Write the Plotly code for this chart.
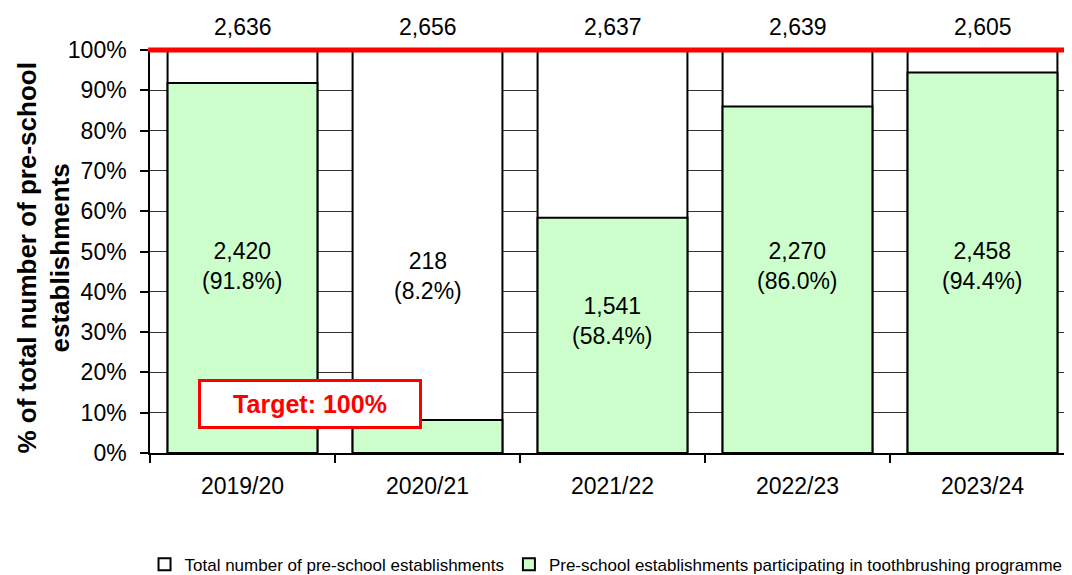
import plotly.graph_objects as go

years = ["2019/20", "2020/21", "2021/22", "2022/23", "2023/24"]
totals = [2636, 2656, 2637, 2639, 2605]
participating = [2420, 218, 1541, 2270, 2458]
pct_participating = [91.8, 8.2, 58.4, 86.0, 94.4]
full = [100, 100, 100, 100, 100]
target_pct = 100
y_ticks = [0, 10, 20, 30, 40, 50, 60, 70, 80, 90, 100]
y_tick_labels = [f"{v}%" for v in y_ticks]

FONT = "Liberation Sans, Arial, sans-serif"
FS = 23

fig = go.Figure()
fig.add_trace(go.Bar(
    x=years, y=full, name="Total number of pre-school establishments",
    marker=dict(color="white", line=dict(color="black", width=2)),
    width=0.81, hoverinfo="skip",
))
fig.add_trace(go.Bar(
    x=years, y=pct_participating,
    name="Pre-school establishments participating in toothbrushing programme",
    marker=dict(color="#ccffcc", line=dict(color="black", width=2)),
    width=0.81, hoverinfo="skip",
))

annotations = []
for yr, tot in zip(years, totals):
    annotations.append(dict(x=yr, y=100, yref="y", xref="x", text=f"{tot:,}",
                            showarrow=False, yanchor="bottom", yshift=8,
                            font=dict(size=FS, color="black", family=FONT)))
for yr, n, p in zip(years, participating, pct_participating):
    if p >= 70:
        ypos = 46.5
    elif p >= 50:
        ypos = p / 2 + 3.6
    else:
        ypos = (p + 100) / 2 - 10.3
    annotations.append(dict(x=yr, y=ypos, xref="x", yref="y",
                            text=f"{n:,}<br>({p:.1f}%)", showarrow=False,
                            font=dict(size=FS, color="black", family=FONT)))
annotations.append(dict(x=0.052, y=12.2, xref="paper", yref="y",
                        text="<b>Target: 100%</b>", showarrow=False,
                        xanchor="left", yanchor="middle",
                        font=dict(size=25, color="#ff0000", family=FONT),
                        bordercolor="#ff0000", borderwidth=3, borderpad=8,
                        bgcolor="white", width=202, height=28))
annotations.append(dict(x=-0.115, y=0.484, xref="paper", yref="paper",
                        text="<b>% of total number of pre-school<br>establishments</b>",
                        showarrow=False, textangle=-90, xanchor="center", yanchor="middle",
                        font=dict(size=26, color="black", family=FONT)))

fig.update_layout(
    width=1072, height=575,
    margin=dict(l=142, r=5, t=42, b=130, autoexpand=False),
    barmode="overlay",
    plot_bgcolor="white", paper_bgcolor="white",
    font=dict(family=FONT, size=FS, color="black"),
    showlegend=True,
    legend=dict(orientation="h", x=0.493, xanchor="center", y=-0.322, yanchor="bottom",
                font=dict(size=17, color="black", family=FONT),
                itemwidth=30, tracegroupgap=0, traceorder="normal",
                borderwidth=0),
    annotations=annotations,
    shapes=[dict(type="line", xref="paper", yref="paper", x0=-0.002, x1=1,
                 y0=target_pct / 100, y1=target_pct / 100,
                 line=dict(color="#ff0000", width=5), layer="above")],
    xaxis=dict(showline=True, linecolor="black", linewidth=1.5, ticks="outside",
               tickson="boundaries", ticklen=8, tickcolor="black", tickwidth=1.5,
               tickfont=dict(size=FS), showgrid=False, range=[-0.5, 4.5],
               automargin=False, ticklabelstandoff=12),
    yaxis=dict(range=[0, 100], tickvals=y_ticks, ticktext=y_tick_labels,
               showline=True, linecolor="black", linewidth=1.5, ticks="outside",
               ticklen=8, tickcolor="black", tickwidth=1.5, showgrid=True,
               gridcolor="#333333", gridwidth=1.2, zeroline=False,
               tickfont=dict(size=FS), automargin=False, ticklabelstandoff=9),
)

fig.write_html("out.html")
